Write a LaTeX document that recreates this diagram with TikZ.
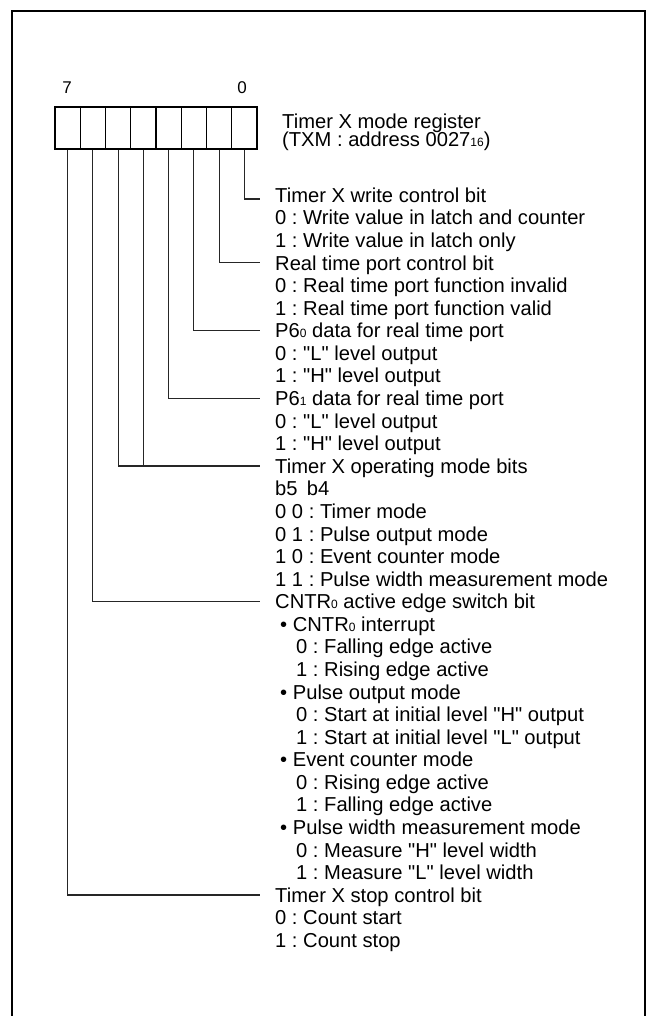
\documentclass[tikz,border=0pt]{standalone}
\usepackage{fontspec}
\setmainfont{Liberation Sans}[Ligatures=TeXOff]
\newcommand{\sbs}[1]{{\fontsize{12}{12}\selectfont #1}}
\frenchspacing
\begin{document}
\begin{tikzpicture}[x=1pt,y=-1pt,
  txt/.style={anchor=base west, inner sep=0pt, font=\fontsize{20.16}{22.6}\selectfont\frenchspacing},
  head/.style={txt, text height=14.4pt, text depth=0pt, inner xsep=15pt},
  bitnum/.style={inner sep=0pt, font=\fontsize{17}{17}\selectfont},
  cell/.style={draw, line width=1.2pt, minimum width=25.25pt, minimum height=42pt, inner sep=0pt},
  conn/.style={line width=1.2pt, draw=black!85},
  frame/.style={line width=2.3pt}]
\useasboundingbox (0,0) rectangle (648,1016);
\draw[frame] (12,1030) -- (12,11) -- (645,11) -- (645,1030);
% register
\foreach \b in {7,...,0} {
  \node[cell] (c\b) at ({55+25.25*(7-\b+0.5)},128) {};
}
\node[bitnum] (n7) at (67,88) {7};
\node[bitnum] (n0) at (242,88) {0};
\node[txt] (title1) at (282,128.3) {Timer X mode register};
\node[txt] (title2) at (282,147) {(TXM : address 0027\sbs{16})};
% bit 0
\node[head] (h0) at (260,202.3) {Timer X write control bit};
\node[txt] (l2) at (275,224.88) {0 : Write value in latch and counter};
\node[txt] (l3) at (275,247.46) {1 : Write value in latch only};
% bit 1
\node[head] (h1) at (260,270.04) {Real time port control bit};
\node[txt] (l5) at (275,292.62) {0 : Real time port function invalid};
\node[txt] (l6) at (275,315.2) {1 : Real time port function valid};
% bit 2
\node[head] (h2) at (260,337.78) {P6\sbs{0} data for real time port};
\node[txt] (l8) at (275,360.36) {0 : "L" level output};
\node[txt] (l9) at (275,382.94) {1 : "H" level output};
% bit 3
\node[head] (h3) at (260,405.52) {P6\sbs{1} data for real time port};
\node[txt] (l11) at (275,428.1) {0 : "L" level output};
\node[txt] (l12) at (275,450.68) {1 : "H" level output};
% bits 5,4
\node[head] (h4) at (260,473.26) {Timer X operating mode bits};
\node[txt] (l14) at (275,495.84) {b5\hspace{9.3pt}b4};
\node[txt] (l15) at (275,518.42) {0 0 : Timer mode};
\node[txt] (l16) at (275,541.0) {0 1 : Pulse output mode};
\node[txt] (l17) at (275,563.58) {1 0 : Event counter mode};
\node[txt] (l18) at (275,586.16) {1 1 : Pulse width measurement mode};
% bit 6
\node[head] (h6) at (260,608.74) {CNTR\sbs{0} active edge switch bit};
\node[txt] (l20) at (280,631.32) {• CNTR\sbs{0} interrupt};
\node[txt] (l21) at (296,653.9) {0 : Falling edge active};
\node[txt] (l22) at (296,676.48) {1 : Rising edge active};
\node[txt] (l23) at (280,699.06) {• Pulse output mode};
\node[txt] (l24) at (296,721.64) {0 : Start at initial level "H" output};
\node[txt] (l25) at (296,744.22) {1 : Start at initial level "L" output};
\node[txt] (l26) at (280,766.8) {• Event counter mode};
\node[txt] (l27) at (296,789.38) {0 : Rising edge active};
\node[txt] (l28) at (296,811.96) {1 : Falling edge active};
\node[txt] (l29) at (280,834.54) {• Pulse width measurement mode};
\node[txt] (l30) at (296,857.12) {0 : Measure "H" level width};
\node[txt] (l31) at (296,879.7) {1 : Measure "L" level width};
% bit 7
\node[head] (h7) at (260,902.28) {Timer X stop control bit};
\node[txt] (l33) at (275,924.86) {0 : Count start};
\node[txt] (l34) at (275,947.44) {1 : Count stop};
% connectors
\draw[conn] (c0.south) |- ([yshift=-4pt]h0.west);
\draw[conn] (c1.south) |- (h1.west);
\draw[conn] (c2.south) |- (h2.west);
\draw[conn] (c3.south) |- (h3.west);
\draw[conn] (c5.south) |- (h4.west);
\draw[conn] (c4.south) -- (c4.south |- h4.west);
\draw[conn] (c6.south) |- (h6.west);
\draw[conn] (c7.south) |- (h7.west);
\end{tikzpicture}
\end{document}
